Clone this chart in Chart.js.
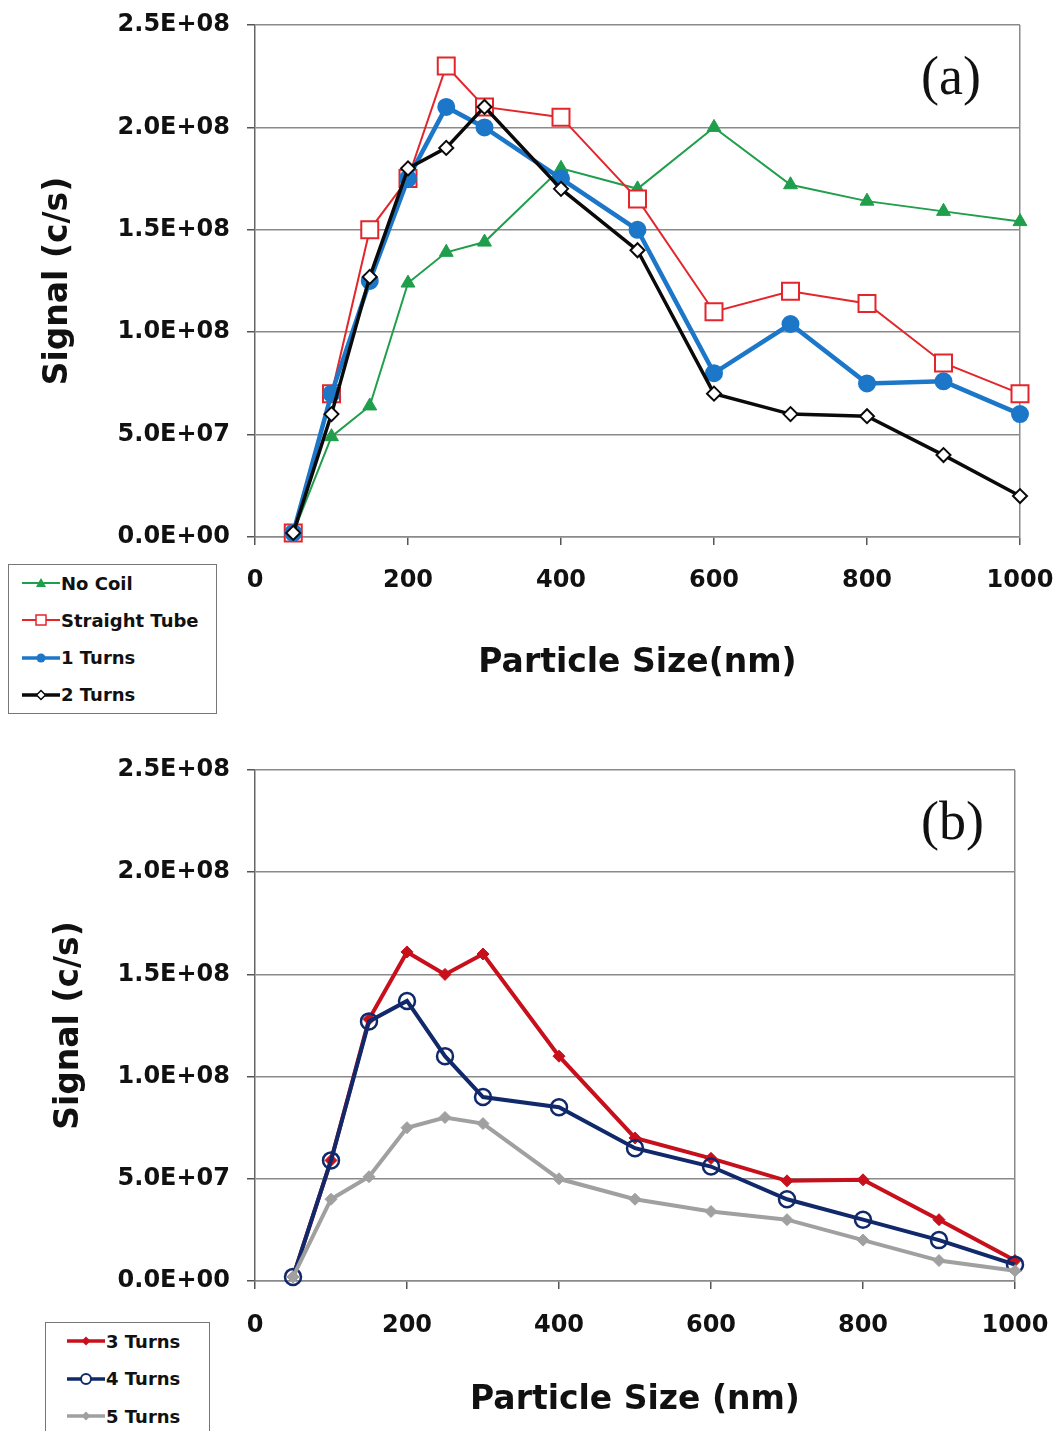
<!DOCTYPE html>
<html>
<head>
<meta charset="utf-8">
<script src="https://cdn.jsdelivr.net/npm/chart.js@4/dist/chart.umd.min.js"></script>
<style>
  body { margin: 0; background: #fff; }
  #page { position: relative; width: 1057px; height: 1431px; overflow: hidden; background: #fff; }
  canvas { position: absolute; left: 0; }
  .panel { position: absolute; font-family: "Liberation Serif", serif; font-size: 54px; line-height: 54px; color: #111; }
  .legend { position: absolute; border: 1.5px solid #777; background: #fff; box-sizing: border-box; }
  .row { position: absolute; height: 24px; display: flex; align-items: center;
         font-family: "DejaVu Sans", sans-serif; font-weight: bold; font-size: 18px; color: #111; white-space: nowrap; }
  .row svg { margin-right: 1px; }
</style>
</head>
<body>
<div id="page">
  <canvas id="chartA" width="1057" height="745" style="top:0"></canvas>
  <canvas id="chartB" width="1057" height="686" style="top:745px"></canvas>
  <div class="panel" style="left:921px; top:49px">(a)</div>
  <div class="panel" style="left:921px; top:794px">(b)</div>
  <div class="legend" id="legendA" style="left:8px; top:564px; width:209px; height:150px"></div>
  <div class="legend" id="legendB" style="left:45px; top:1322px; width:165px; height:130px"></div>
</div>
<script>
// particle sizes (nm)
const sizes = [50, 100, 150, 200, 250, 300, 400, 500, 600, 700, 800, 900, 1000];

// panel (a)
const noCoil       = [2e6, 4.9e7, 6.4e7, 1.24e8, 1.39e8, 1.44e8, 1.80e8, 1.70e8, 2.00e8, 1.72e8, 1.64e8, 1.59e8, 1.54e8];
const straightTube = [2e6, 7.0e7, 1.50e8, 1.75e8, 2.30e8, 2.10e8, 2.05e8, 1.65e8, 1.10e8, 1.20e8, 1.14e8, 8.5e7, 7.0e7];
const oneTurn      = [2e6, 7.0e7, 1.25e8, 1.75e8, 2.10e8, 2.00e8, 1.75e8, 1.50e8, 8.0e7, 1.04e8, 7.5e7, 7.6e7, 6.0e7];
const twoTurns     = [2e6, 6.0e7, 1.27e8, 1.80e8, 1.90e8, 2.10e8, 1.70e8, 1.40e8, 7.0e7, 6.0e7, 5.9e7, 4.0e7, 2.0e7];

// panel (b)
const threeTurns = [2e6, 5.9e7, 1.28e8, 1.61e8, 1.50e8, 1.60e8, 1.10e8, 7.0e7, 6.0e7, 4.9e7, 4.95e7, 3.0e7, 1.0e7];
const fourTurns  = [2e6, 5.9e7, 1.27e8, 1.37e8, 1.10e8, 9.0e7, 8.5e7, 6.5e7, 5.6e7, 4.0e7, 3.0e7, 2.0e7, 8e6];
const fiveTurns  = [2e6, 4.0e7, 5.1e7, 7.5e7, 8.0e7, 7.7e7, 5.0e7, 4.0e7, 3.4e7, 3.0e7, 2.0e7, 1.0e7, 5e6];

const yTickLabels = ['0.0E+00', '5.0E+07', '1.0E+08', '1.5E+08', '2.0E+08', '2.5E+08'];

const pts = arr => sizes.map((x, i) => ({ x: x, y: arr[i] }));

function series(label, arr, s) {
    return {
        label: label,
        data: pts(arr),
        borderColor: s.color,
        backgroundColor: s.color,
        borderWidth: s.line,
        tension: 0,
        clip: false,
        pointStyle: s.marker,
        pointRadius: s.radius,
        pointBorderWidth: s.mBorder,
        pointBorderColor: s.color,
        pointBackgroundColor: s.fill,
        order: s.order
    };
}

const styleA = [
    { color: '#1f9e4b', line: 2, marker: 'triangle', radius: 8, mBorder: 1, fill: '#1f9e4b', order: 3, icon: 'tri' },
    { color: '#e3262b', line: 2, marker: 'rect', radius: 12, mBorder: 2, fill: '#ffffff', order: 2, icon: 'sq' },
    { color: '#1c77c9', line: 4.5, marker: 'circle', radius: 8, mBorder: 2, fill: '#1c77c9', order: 1, icon: 'dot' },
    { color: '#0a0a0a', line: 3.5, marker: 'rectRot', radius: 7, mBorder: 2, fill: '#ffffff', order: 0, icon: 'dia' }
];
const styleB = [
    { color: '#c8101c', line: 4, marker: 'rectRot', radius: 6, mBorder: 1, fill: '#c8101c', order: 2, icon: 'diaF' },
    { color: '#11296b', line: 4, marker: 'circle', radius: 8, mBorder: 2.5, fill: 'rgba(0,0,0,0)', order: 1, icon: 'ring' },
    { color: '#a0a0a0', line: 4, marker: 'rectRot', radius: 6, mBorder: 1, fill: '#a0a0a0', order: 0, icon: 'diaF' }
];

function makeChart(id, datasets, o) {
    const font = { family: 'DejaVu Sans', weight: 'bold' };
    return new Chart(document.getElementById(id), {
        type: 'line',
        data: { datasets: datasets },
        options: {
            responsive: false,
            animation: false,
            devicePixelRatio: 1,
            layout: { padding: { top: 25, right: o.right, left: 0, bottom: 0 } },
            plugins: { legend: { display: false }, tooltip: { enabled: false } },
            scales: {
                x: {
                    type: 'linear', min: 0, max: 1000,
                    // label drop is done with lineHeight so the side padding stays small
                    ticks: { stepSize: 200, padding: 0, color: '#111',
                             font: { ...font, size: 24, lineHeight: o.xLabelLH },
                             maxRotation: 0, callback: v => String(v) },
                    grid: {
                        color: c => (c.tick && c.tick.value === 1000) ? '#8a8a8a' : 'rgba(0,0,0,0)',
                        lineWidth: 1.5, tickLength: 8, tickColor: '#555', tickWidth: 1.5
                    },
                    border: { display: true, color: '#8a8a8a', width: 1.5 },
                    title: { display: true, text: o.xTitle, color: '#111', font: { ...font, size: 33 },
                             padding: { top: 0, bottom: o.xTitlePad } },
                    afterFit: s => { s.height = o.xHeight; }
                },
                y: {
                    min: 0, max: 2.5e8,
                    ticks: { stepSize: 5e7, padding: 17, color: '#111',
                             font: { ...font, size: 24, lineHeight: '10px' },
                             callback: (v, i) => yTickLabels[i] },
                    grid: { color: '#8a8a8a', lineWidth: 1.5, tickLength: 8, tickColor: '#555', tickWidth: 1.5 },
                    border: { display: true, color: '#666', width: 1.5 },
                    title: { display: true, text: 'Signal (c/s)', color: '#111', font: { ...font, size: 33 },
                             padding: { top: o.yTitlePad, bottom: 0 } },
                    afterFit: s => { s.width = 255; }
                }
            }
        }
    });
}

makeChart('chartA', [
    series('No Coil', noCoil, styleA[0]),
    series('Straight Tube', straightTube, styleA[1]),
    series('1 Turns', oneTurn, styleA[2]),
    series('2 Turns', twoTurns, styleA[3])
], { right: 37, xHeight: 208, xLabelLH: '72px', xTitle: 'Particle Size(nm)', xTitlePad: 62, yTitlePad: 39 });

makeChart('chartB', [
    series('3 Turns', threeTurns, styleB[0]),
    series('4 Turns', fourTurns, styleB[1]),
    series('5 Turns', fiveTurns, styleB[2])
], { right: 42, xHeight: 150, xLabelLH: '74px', xTitle: 'Particle Size (nm)', xTitlePad: 11, yTitlePad: 50 });

// legend icons
function icon(s) {
    const c = s.color, w = 38, m = 19, y = 10;
    let mk = '';
    if (s.icon === 'tri') mk = `<polygon points="${m},${y - 5} ${m + 5},${y + 4} ${m - 5},${y + 4}" fill="${c}"/>`;
    if (s.icon === 'sq') mk = `<rect x="${m - 5}" y="${y - 5}" width="10" height="10" fill="#fff" stroke="${c}" stroke-width="1.5"/>`;
    if (s.icon === 'dot') mk = `<circle cx="${m}" cy="${y}" r="4.5" fill="${c}"/>`;
    if (s.icon === 'dia') mk = `<polygon points="${m},${y - 4.5} ${m + 4.5},${y} ${m},${y + 4.5} ${m - 4.5},${y}" fill="#fff" stroke="${c}" stroke-width="1.5"/>`;
    if (s.icon === 'diaF') mk = `<polygon points="${m},${y - 4.5} ${m + 4.5},${y} ${m},${y + 4.5} ${m - 4.5},${y}" fill="${c}"/>`;
    if (s.icon === 'ring') mk = `<circle cx="${m}" cy="${y}" r="5" fill="#fff" stroke="${c}" stroke-width="2"/>`;
    const lw = Math.min(s.line, 3.5);
    return `<svg width="${w}" height="20"><line x1="0" y1="${y}" x2="${w}" y2="${y}" stroke="${c}" stroke-width="${lw}"/>${mk}</svg>`;
}

function buildLegend(id, labels, styles, left, firstTop, step) {
    const box = document.getElementById(id);
    labels.forEach((lab, i) => {
        const row = document.createElement('div');
        row.className = 'row';
        row.style.left = left + 'px';
        row.style.top = (firstTop + i * step - 12) + 'px';
        row.innerHTML = icon(styles[i]) + '<span>' + lab + '</span>';
        box.appendChild(row);
    });
}

buildLegend('legendA', ['No Coil', 'Straight Tube', '1 Turns', '2 Turns'], styleA, 13, 18, 37.3);
buildLegend('legendB', ['3 Turns', '4 Turns', '5 Turns'], styleB, 21, 18, 37.5);
</script>
</body>
</html>
